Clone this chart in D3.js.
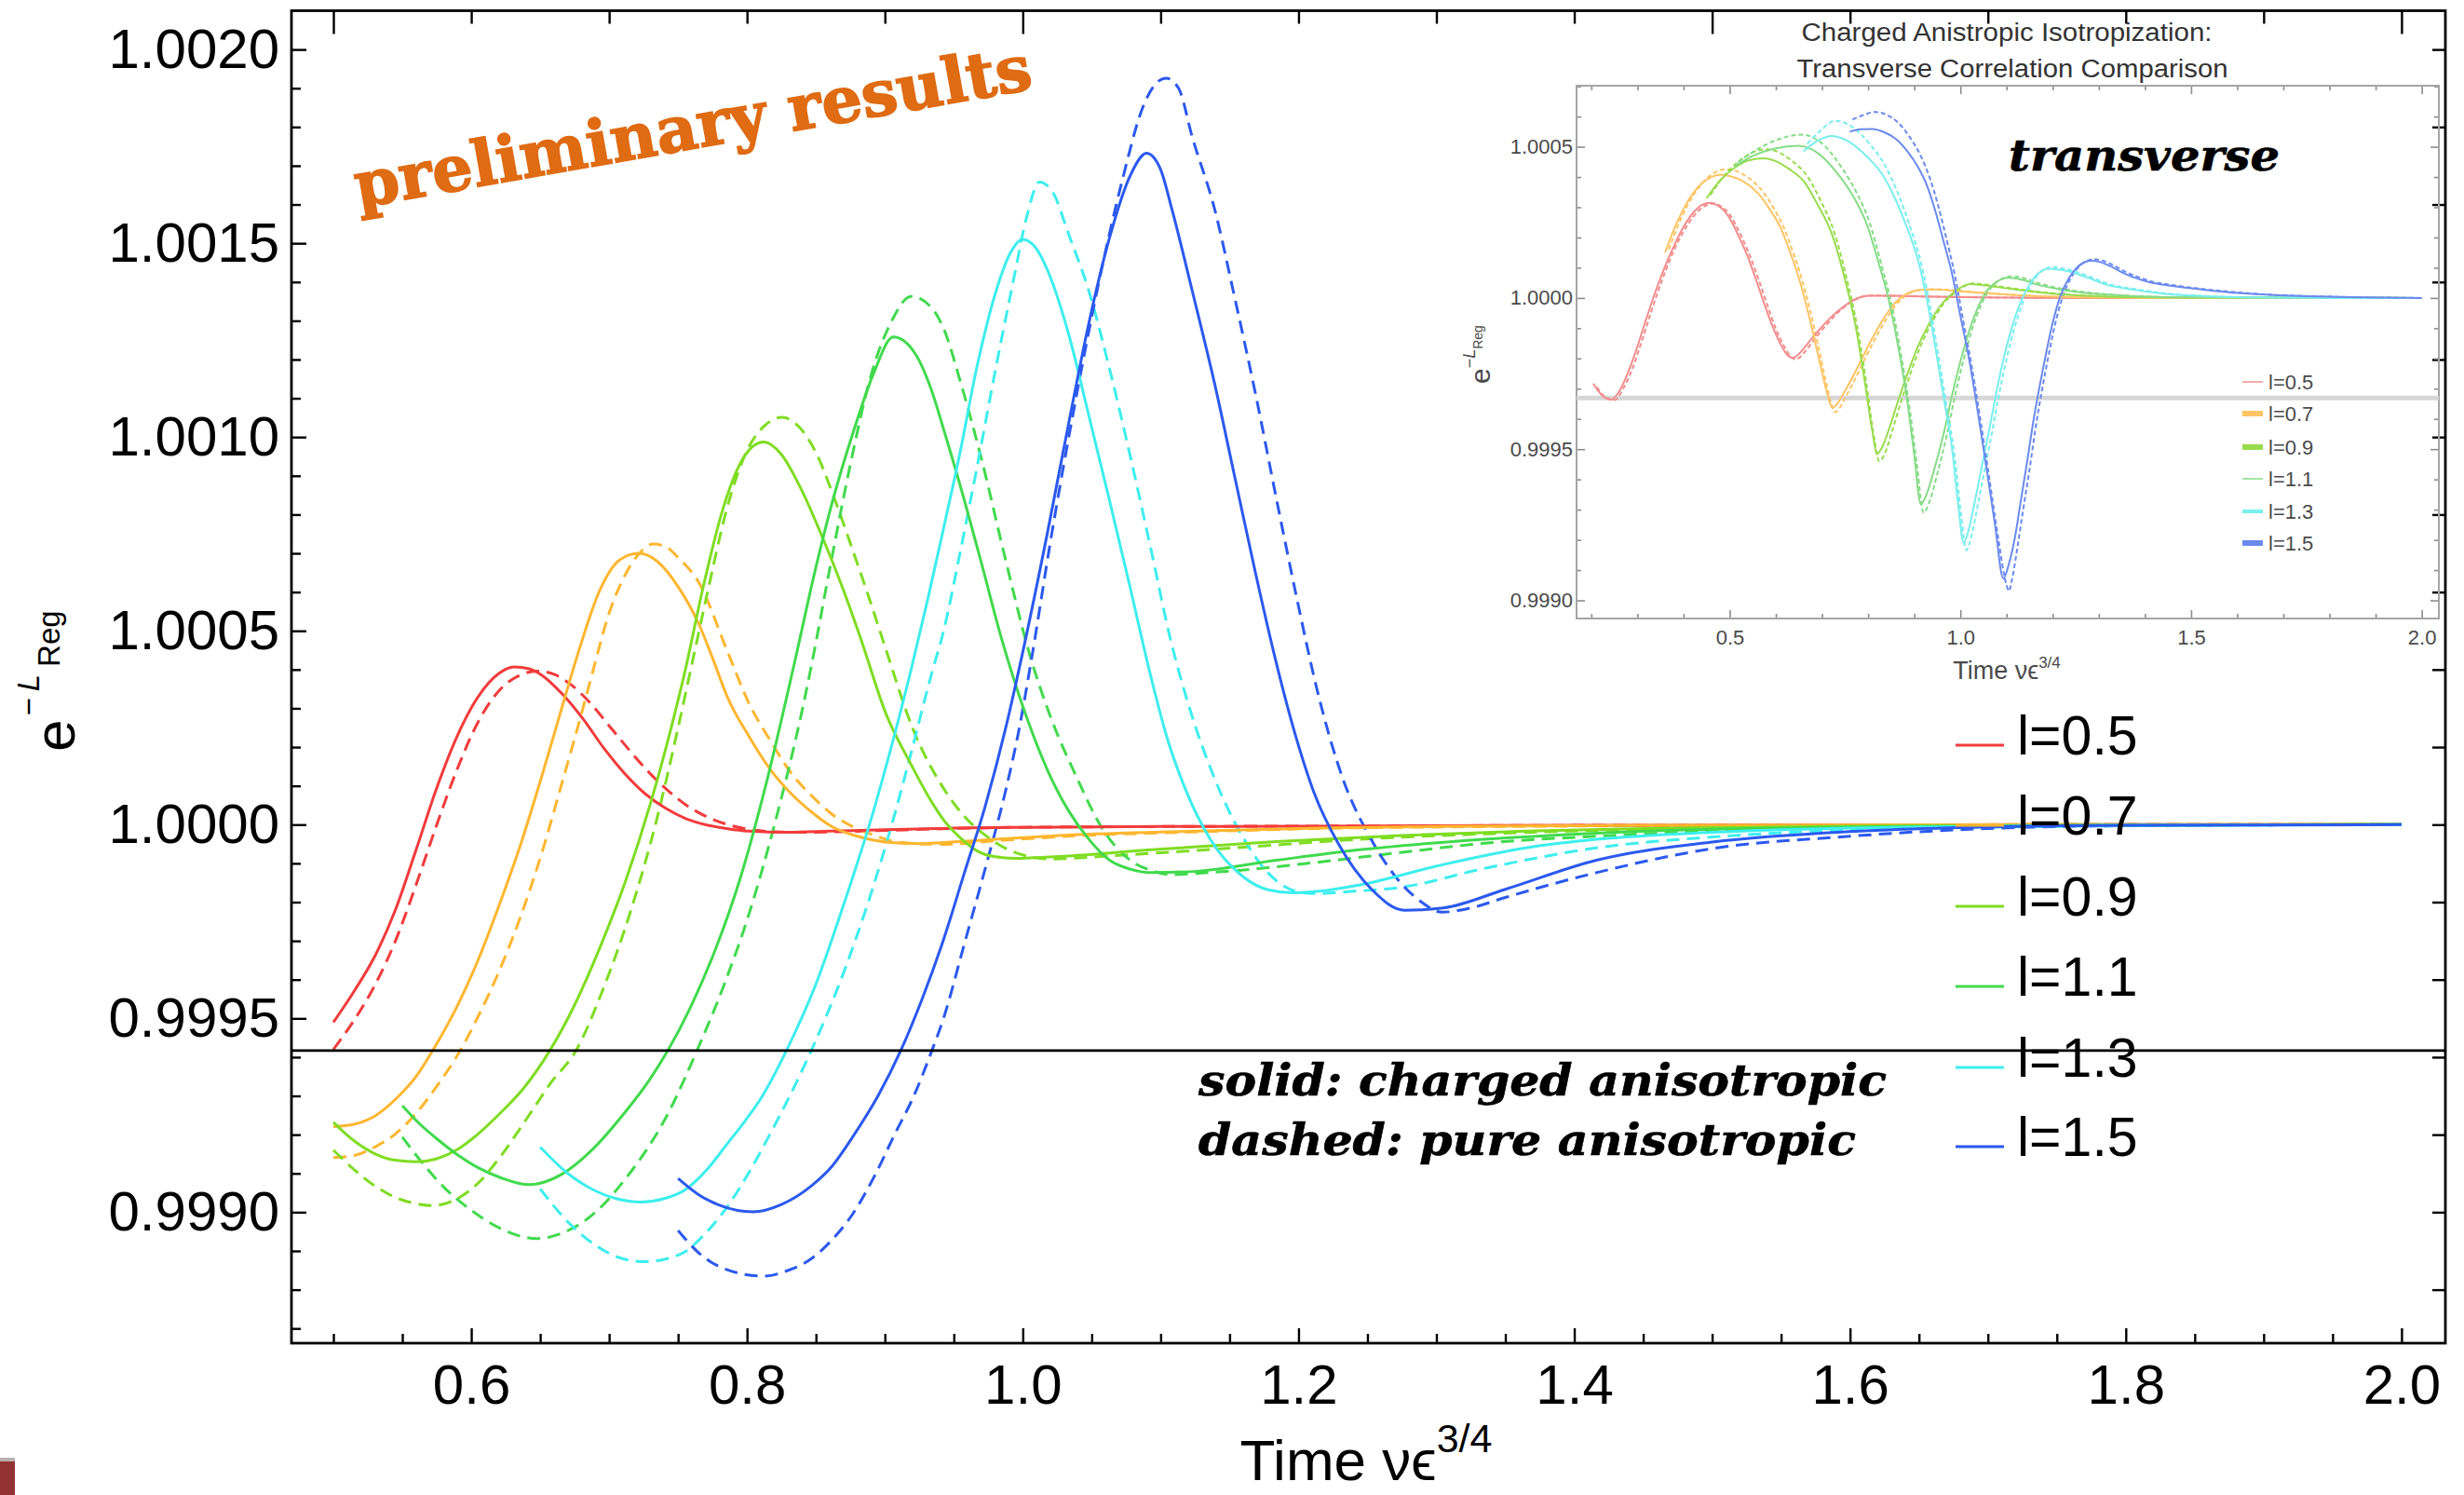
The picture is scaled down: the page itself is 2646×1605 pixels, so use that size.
<!DOCTYPE html>
<html>
<head>
<meta charset="utf-8">
<script src="https://cdn.jsdelivr.net/npm/d3@7"></script>
<style>
  html, body { margin: 0; padding: 0; background: #fff; }
  svg { display: block; }
</style>
</head>
<body>
<svg id="chart" width="2646" height="1605"></svg>
<script>
// ---------------------------------------------------------------------------
// Data: e^{-L_Reg} versus time, for six values of l.
// Each point is [time, deviation from 1 in units of 1e-4].
// "charged" = charged anisotropic (solid), "pure" = pure anisotropic (dashed).
// ---------------------------------------------------------------------------
const lLabels = ["l=0.5", "l=0.7", "l=0.9", "l=1.1", "l=1.3", "l=1.5"];
const lineColors = ["#f23b3b", "#ffb62f", "#7fdd22", "#40da4c", "#3deeee", "#2b59ee"];
const insetColors = ["#f38c8c", "#ffc463", "#98dc4c", "#86dc86", "#78eeee", "#6a8aee"];

const charged05 = [[0.500,-5.10],[0.515,-4.30],[0.530,-3.40],[0.545,-2.20],[0.560,-0.65],[0.575,0.95],[0.590,2.30],[0.605,3.30],[0.620,3.90],[0.631,4.07],[0.642,4.02],[0.651,3.86],[0.666,3.37],[0.681,2.73],[0.696,1.98],[0.711,1.33],[0.726,0.80],[0.741,0.42],[0.756,0.15],[0.771,-0.01],[0.786,-0.11],[0.801,-0.17],[0.830,-0.20],[0.860,-0.17],[0.900,-0.13],[0.950,-0.09],[1.000,-0.07],[1.100,-0.05],[1.200,-0.04],[1.400,-0.02],[1.600,-0.01],[1.800,0],[2.000,0]];
const pure05 = [[0.500,-5.80],[0.515,-5.05],[0.530,-4.15],[0.545,-3.00],[0.560,-1.55],[0.575,0.00],[0.590,1.45],[0.605,2.65],[0.620,3.45],[0.635,3.85],[0.648,3.96],[0.660,3.88],[0.672,3.62],[0.686,3.15],[0.700,2.55],[0.714,1.95],[0.728,1.38],[0.742,0.90],[0.756,0.50],[0.771,0.20],[0.786,0.00],[0.801,-0.12],[0.830,-0.20],[0.860,-0.19],[0.900,-0.15],[0.950,-0.10],[1.000,-0.07],[1.100,-0.05],[1.200,-0.04],[1.400,-0.02],[1.600,-0.01],[1.800,0],[2.000,0]];

const charged07 = [[0.500,-7.79],[0.515,-7.73],[0.530,-7.52],[0.545,-7.09],[0.560,-6.50],[0.572,-5.83],[0.590,-4.67],[0.605,-3.49],[0.620,-2.10],[0.636,-0.49],[0.651,1.23],[0.666,3.05],[0.679,4.60],[0.693,6.03],[0.708,6.84],[0.7215,7.00],[0.735,6.79],[0.750,6.14],[0.765,5.18],[0.775,4.30],[0.786,3.27],[0.801,2.30],[0.8165,1.44],[0.832,0.80],[0.847,0.32],[0.862,-0.06],[0.877,-0.27],[0.892,-0.40],[0.907,-0.47],[0.925,-0.49],[0.943,-0.46],[0.980,-0.38],[1.033,-0.27],[1.123,-0.17],[1.214,-0.09],[1.305,-0.05],[1.450,-0.02],[1.600,-0.01],[1.800,0],[2.000,0]];
const pure07 = [[0.500,-8.59],[0.515,-8.54],[0.530,-8.32],[0.545,-7.98],[0.560,-7.45],[0.575,-6.75],[0.592,-5.83],[0.605,-4.95],[0.620,-3.80],[0.636,-2.35],[0.651,-0.75],[0.666,1.10],[0.681,3.00],[0.690,4.20],[0.699,5.35],[0.711,6.40],[0.722,7.00],[0.732,7.24],[0.742,7.15],[0.750,6.89],[0.765,6.25],[0.786,4.45],[0.801,3.16],[0.8165,2.19],[0.832,1.33],[0.847,0.74],[0.862,0.26],[0.877,-0.06],[0.892,-0.27],[0.907,-0.44],[0.922,-0.49],[0.943,-0.51],[0.980,-0.42],[1.033,-0.30],[1.123,-0.19],[1.214,-0.10],[1.305,-0.06],[1.450,-0.03],[1.600,-0.01],[1.800,0],[2.000,0]];

const charged09 = [[0.500,-7.68],[0.515,-8.16],[0.530,-8.49],[0.545,-8.66],[0.560,-8.70],[0.575,-8.62],[0.590,-8.38],[0.605,-7.98],[0.620,-7.48],[0.638,-6.80],[0.657,-5.83],[0.675,-4.65],[0.693,-3.20],[0.712,-1.45],[0.730,0.55],[0.745,2.50],[0.755,3.95],[0.768,6.10],[0.783,8.20],[0.798,9.50],[0.812,9.87],[0.825,9.55],[0.840,8.60],[0.856,7.30],[0.871,5.95],[0.882,4.85],[0.901,2.84],[0.919,1.55],[0.934,0.58],[0.943,0.10],[0.955,-0.35],[0.967,-0.68],[0.980,-0.83],[0.994,-0.87],[1.010,-0.85],[1.033,-0.81],[1.093,-0.65],[1.184,-0.44],[1.274,-0.28],[1.365,-0.17],[1.450,-0.10],[1.600,-0.04],[1.800,-0.01],[2.000,0]];
const pure09 = [[0.500,-8.40],[0.515,-8.90],[0.530,-9.32],[0.545,-9.62],[0.560,-9.78],[0.572,-9.83],[0.590,-9.65],[0.605,-9.25],[0.620,-8.62],[0.640,-7.60],[0.658,-6.65],[0.676,-5.83],[0.695,-4.30],[0.715,-2.30],[0.735,0.20],[0.750,2.50],[0.761,4.30],[0.772,6.10],[0.785,8.10],[0.800,9.65],[0.813,10.30],[0.8255,10.51],[0.838,10.25],[0.850,9.60],[0.862,8.55],[0.875,7.25],[0.889,5.80],[0.900,4.60],[0.920,2.50],[0.943,0.91],[0.958,0.20],[0.973,-0.28],[0.988,-0.62],[1.003,-0.81],[1.021,-0.89],[1.040,-0.86],[1.063,-0.81],[1.154,-0.60],[1.244,-0.38],[1.335,-0.24],[1.450,-0.12],[1.600,-0.05],[1.800,-0.01],[2.000,0]];

const charged11 = [[0.550,-7.25],[0.5625,-7.72],[0.5752,-8.11],[0.590,-8.52],[0.6053,-8.86],[0.622,-9.12],[0.6415,-9.29],[0.6657,-9.02],[0.6868,-8.42],[0.7109,-7.45],[0.729,-6.60],[0.7426,-5.83],[0.7592,-4.70],[0.7773,-3.20],[0.7954,-1.35],[0.8135,1.00],[0.8346,4.20],[0.8497,6.60],[0.8617,8.30],[0.8768,10.10],[0.8919,11.65],[0.9061,12.58],[0.922,12.15],[0.934,11.19],[0.9426,10.20],[0.955,8.70],[0.970,6.75],[0.985,4.75],[1.003,2.75],[1.018,1.40],[1.033,0.37],[1.048,-0.38],[1.063,-0.92],[1.078,-1.15],[1.093,-1.24],[1.124,-1.21],[1.184,-0.92],[1.244,-0.65],[1.335,-0.38],[1.416,-0.22],[1.500,-0.12],[1.600,-0.06],[1.800,-0.01],[2.000,0]];
const pure11 = [[0.550,-8.06],[0.565,-8.75],[0.580,-9.35],[0.600,-9.95],[0.620,-10.40],[0.6476,-10.68],[0.665,-10.55],[0.6808,-10.26],[0.696,-9.80],[0.7109,-9.18],[0.726,-8.45],[0.741,-7.57],[0.7637,-5.83],[0.7833,-4.14],[0.8014,-2.31],[0.8195,-0.06],[0.8406,3.05],[0.8467,4.10],[0.860,6.60],[0.875,9.30],[0.890,11.60],[0.905,13.00],[0.919,13.63],[0.934,13.33],[0.9426,12.80],[0.955,11.40],[0.9698,9.47],[0.9878,6.79],[1.0045,4.45],[1.021,2.70],[1.039,1.23],[1.057,-0.06],[1.078,-0.92],[1.093,-1.18],[1.108,-1.29],[1.130,-1.25],[1.154,-1.19],[1.214,-0.97],[1.274,-0.72],[1.335,-0.48],[1.416,-0.30],[1.500,-0.17],[1.600,-0.08],[1.800,-0.02],[2.000,0]];

const charged13 = [[0.650,-8.32],[0.670,-9.00],[0.690,-9.45],[0.705,-9.65],[0.723,-9.74],[0.740,-9.65],[0.756,-9.40],[0.771,-8.90],[0.786,-8.22],[0.7985,-7.65],[0.8105,-7.04],[0.8286,-5.83],[0.8497,-4.14],[0.8708,-1.99],[0.8919,0.37],[0.905,2.05],[0.919,4.00],[0.931,5.80],[0.9426,7.65],[0.9545,9.60],[0.9667,11.80],[0.9818,13.90],[0.991,14.75],[0.9999,15.10],[1.009,14.90],[1.018,14.30],[1.033,12.69],[1.048,10.54],[1.063,8.35],[1.078,6.10],[1.092,3.95],[1.105,2.20],[1.118,0.91],[1.136,-0.38],[1.160,-1.35],[1.178,-1.68],[1.196,-1.76],[1.220,-1.70],[1.244,-1.56],[1.305,-1.03],[1.365,-0.60],[1.416,-0.38],[1.500,-0.20],[1.600,-0.09],[1.800,-0.02],[2.000,0]];
const pure13 = [[0.650,-9.40],[0.670,-10.25],[0.690,-10.85],[0.708,-11.18],[0.726,-11.28],[0.742,-11.20],[0.756,-11.00],[0.771,-10.50],[0.7863,-9.83],[0.801,-9.00],[0.8165,-8.00],[0.8466,-5.83],[0.8678,-4.03],[0.8919,-1.56],[0.905,0.00],[0.916,1.44],[0.934,3.91],[0.9426,5.00],[0.955,7.10],[0.9667,9.20],[0.980,11.70],[0.993,14.00],[1.003,15.70],[1.012,16.58],[1.022,16.30],[1.033,15.26],[1.048,13.76],[1.063,11.75],[1.078,9.50],[1.093,7.10],[1.107,4.80],[1.121,3.00],[1.139,1.20],[1.160,-0.35],[1.184,-1.45],[1.198,-1.72],[1.211,-1.78],[1.240,-1.72],[1.274,-1.62],[1.335,-1.13],[1.416,-0.60],[1.500,-0.32],[1.600,-0.14],[1.800,-0.03],[2.000,0]];

const charged15 = [[0.750,-9.13],[0.765,-9.55],[0.780,-9.82],[0.8044,-9.99],[0.825,-9.80],[0.8467,-9.32],[0.862,-8.80],[0.8768,-8.05],[0.895,-7.00],[0.9115,-5.83],[0.927,-4.50],[0.9426,-2.96],[0.9577,-1.24],[0.9728,0.48],[0.9878,2.52],[1.000,4.45],[1.018,7.55],[1.033,10.30],[1.048,12.95],[1.063,15.15],[1.078,16.75],[1.0898,17.32],[1.100,16.90],[1.108,15.90],[1.123,13.76],[1.139,11.40],[1.154,8.93],[1.169,6.46],[1.183,4.30],[1.197,2.40],[1.211,0.85],[1.229,-0.50],[1.253,-1.67],[1.277,-2.21],[1.305,-2.15],[1.350,-1.67],[1.416,-0.92],[1.500,-0.45],[1.600,-0.18],[1.700,-0.06],[1.800,-0.02],[2.000,0]];
const pure15 = [[0.750,-10.47],[0.765,-11.05],[0.785,-11.48],[0.812,-11.65],[0.830,-11.50],[0.8467,-11.20],[0.862,-10.70],[0.8768,-10.04],[0.892,-9.10],[0.907,-8.00],[0.921,-7.00],[0.9341,-5.83],[0.9426,-4.99],[0.9577,-3.07],[0.9728,-1.13],[0.9878,0.91],[0.997,2.40],[1.006,4.20],[1.021,7.50],[1.039,11.08],[1.057,14.30],[1.072,16.60],[1.087,18.50],[1.096,19.10],[1.104,19.26],[1.113,19.00],[1.123,17.73],[1.139,15.90],[1.154,13.55],[1.169,11.08],[1.184,8.40],[1.199,5.80],[1.214,3.40],[1.232,1.20],[1.253,-0.40],[1.274,-1.50],[1.290,-2.02],[1.304,-2.26],[1.325,-2.15],[1.350,-1.88],[1.416,-1.24],[1.500,-0.62],[1.600,-0.30],[1.700,-0.10],[1.800,-0.03],[2.000,0]];

// Inset: transverse correlation, same layout [time, deviation x 1e-4]
const insetCharged05 = [[0.204,-2.83],[0.222,-3.20],[0.243,-3.36],[0.262,-3.05],[0.280,-2.45],[0.300,-1.60],[0.320,-0.65],[0.340,0.25],[0.360,1.05],[0.380,1.75],[0.400,2.35],[0.420,2.80],[0.440,3.08],[0.458,3.15],[0.475,3.05],[0.490,2.85],[0.505,2.50],[0.520,2.02],[0.537,1.45],[0.556,0.65],[0.574,-0.15],[0.593,-0.95],[0.611,-1.55],[0.624,-1.87],[0.636,-1.98],[0.648,-1.88],[0.660,-1.68],[0.680,-1.30],[0.700,-0.95],[0.722,-0.60],[0.750,-0.25],[0.775,-0.02],[0.800,0.07],[0.850,0.07],[0.950,0.04],[1.100,0.01],[1.300,0],[2.000,0]];
const insetPure05 = [[0.212,-2.95],[0.230,-3.28],[0.250,-3.38],[0.270,-2.98],[0.290,-2.30],[0.310,-1.40],[0.330,-0.45],[0.350,0.45],[0.370,1.25],[0.390,1.92],[0.410,2.45],[0.430,2.85],[0.450,3.07],[0.466,3.12],[0.482,3.02],[0.498,2.80],[0.513,2.42],[0.528,1.95],[0.545,1.35],[0.564,0.55],[0.582,-0.25],[0.600,-1.02],[0.618,-1.60],[0.631,-1.92],[0.643,-2.03],[0.655,-1.92],[0.667,-1.70],[0.688,-1.28],[0.708,-0.92],[0.730,-0.55],[0.757,-0.20],[0.782,0.01],[0.808,0.08],[0.860,0.07],[0.960,0.04],[1.100,0.01],[1.300,0],[2.000,0]];
const insetCharged07 = [[0.360,1.50],[0.380,2.30],[0.400,2.95],[0.420,3.45],[0.440,3.80],[0.460,4.00],[0.480,4.08],[0.500,4.03],[0.530,3.85],[0.562,3.45],[0.586,2.95],[0.611,2.30],[0.630,1.55],[0.648,0.75],[0.667,-0.30],[0.685,-1.45],[0.700,-2.45],[0.712,-3.20],[0.7225,-3.63],[0.733,-3.50],[0.745,-3.20],[0.760,-2.80],[0.785,-2.05],[0.809,-1.33],[0.835,-0.65],[0.859,-0.15],[0.885,0.15],[0.908,0.26],[0.935,0.28],[0.960,0.27],[1.000,0.22],[1.069,0.14],[1.150,0.07],[1.254,0.02],[1.400,0],[2.000,0]];
const insetPure07 = [[0.368,1.60],[0.388,2.40],[0.408,3.05],[0.428,3.55],[0.448,3.92],[0.468,4.15],[0.490,4.25],[0.510,4.22],[0.538,4.00],[0.570,3.55],[0.594,3.00],[0.618,2.30],[0.637,1.52],[0.655,0.70],[0.674,-0.40],[0.692,-1.60],[0.706,-2.60],[0.718,-3.38],[0.728,-3.78],[0.739,-3.62],[0.751,-3.28],[0.766,-2.85],[0.791,-2.08],[0.815,-1.35],[0.841,-0.66],[0.865,-0.15],[0.891,0.16],[0.914,0.27],[0.941,0.29],[0.966,0.28],[1.006,0.22],[1.075,0.14],[1.156,0.07],[1.260,0.02],[1.400,0],[2.000,0]];
const insetCharged09 = [[0.450,3.30],[0.480,3.90],[0.510,4.30],[0.540,4.55],[0.574,4.62],[0.600,4.52],[0.630,4.25],[0.661,3.85],[0.690,3.10],[0.722,2.09],[0.750,0.60],[0.772,-0.86],[0.790,-2.50],[0.809,-4.39],[0.819,-5.16],[0.830,-4.95],[0.846,-4.30],[0.865,-3.40],[0.883,-2.60],[0.908,-1.60],[0.932,-0.86],[0.957,-0.25],[0.982,0.14],[1.007,0.40],[1.019,0.46],[1.050,0.42],[1.100,0.32],[1.150,0.22],[1.200,0.14],[1.260,0.08],[1.350,0.03],[1.500,0.01],[2.000,0]];
const insetPure09 = [[0.458,3.40],[0.488,4.05],[0.518,4.50],[0.548,4.80],[0.580,4.92],[0.606,4.82],[0.636,4.52],[0.667,4.05],[0.696,3.25],[0.727,2.15],[0.755,0.55],[0.777,-1.00],[0.795,-2.70],[0.813,-4.62],[0.824,-5.40],[0.836,-5.15],[0.852,-4.40],[0.871,-3.45],[0.889,-2.62],[0.914,-1.58],[0.938,-0.82],[0.963,-0.20],[0.988,0.17],[1.013,0.42],[1.026,0.48],[1.056,0.44],[1.106,0.33],[1.156,0.23],[1.206,0.15],[1.266,0.08],[1.356,0.03],[1.500,0.01],[2.000,0]];
const insetCharged11 = [[0.510,4.35],[0.550,4.70],[0.600,4.95],[0.648,5.03],[0.690,4.80],[0.735,4.09],[0.770,3.30],[0.797,2.44],[0.822,1.20],[0.846,-0.15],[0.865,-1.60],[0.883,-3.21],[0.900,-5.20],[0.914,-6.81],[0.929,-6.40],[0.945,-5.57],[0.965,-4.40],[0.982,-3.21],[1.000,-2.10],[1.019,-1.09],[1.037,-0.35],[1.056,0.20],[1.080,0.55],[1.105,0.67],[1.135,0.60],[1.167,0.44],[1.210,0.30],[1.254,0.20],[1.320,0.11],[1.378,0.06],[1.500,0.02],[2.000,0]];
const insetPure11 = [[0.518,4.50],[0.558,4.90],[0.606,5.25],[0.655,5.40],[0.697,5.15],[0.741,4.35],[0.776,3.45],[0.803,2.50],[0.828,1.15],[0.852,-0.30],[0.871,-1.85],[0.889,-3.55],[0.906,-5.55],[0.920,-7.10],[0.935,-6.65],[0.951,-5.75],[0.971,-4.50],[0.988,-3.25],[1.006,-2.10],[1.025,-1.05],[1.043,-0.30],[1.062,0.25],[1.086,0.60],[1.111,0.72],[1.141,0.64],[1.173,0.47],[1.216,0.32],[1.260,0.21],[1.326,0.11],[1.384,0.06],[1.500,0.02],[2.000,0]];
const insetCharged13 = [[0.660,4.85],[0.690,5.20],[0.7225,5.36],[0.760,5.15],[0.797,4.68],[0.830,4.10],[0.859,3.27],[0.885,2.30],[0.908,1.26],[0.928,-0.10],[0.945,-1.57],[0.965,-3.40],[0.982,-5.00],[0.995,-6.80],[1.007,-8.10],[1.019,-7.60],[1.031,-6.75],[1.046,-5.60],[1.062,-4.39],[1.077,-3.20],[1.093,-2.04],[1.111,-1.00],[1.130,-0.15],[1.150,0.45],[1.167,0.79],[1.192,0.97],[1.222,0.92],[1.254,0.79],[1.285,0.62],[1.316,0.44],[1.378,0.27],[1.439,0.14],[1.530,0.06],[1.625,0.02],[1.800,0],[2.000,0]];
const insetPure13 = [[0.668,5.10],[0.698,5.55],[0.729,5.86],[0.766,5.65],[0.803,5.10],[0.836,4.40],[0.865,3.45],[0.891,2.35],[0.914,1.20],[0.934,-0.25],[0.951,-1.80],[0.971,-3.65],[0.988,-5.30],[1.001,-7.10],[1.013,-8.34],[1.025,-7.80],[1.037,-6.90],[1.052,-5.72],[1.068,-4.48],[1.083,-3.25],[1.099,-2.08],[1.117,-1.00],[1.136,-0.12],[1.156,0.50],[1.173,0.85],[1.198,1.02],[1.228,0.96],[1.260,0.82],[1.291,0.64],[1.322,0.46],[1.384,0.28],[1.445,0.15],[1.536,0.06],[1.631,0.02],[1.800,0],[2.000,0]];
const insetCharged15 = [[0.760,5.50],[0.785,5.58],[0.809,5.59],[0.835,5.48],[0.859,5.27],[0.885,4.85],[0.908,4.33],[0.928,3.70],[0.945,2.91],[0.963,1.90],[0.982,0.79],[1.000,-0.60],[1.019,-2.04],[1.037,-3.70],[1.056,-5.57],[1.075,-7.50],[1.093,-9.28],[1.105,-8.80],[1.118,-7.93],[1.130,-6.80],[1.143,-5.57],[1.160,-3.90],[1.180,-2.27],[1.198,-0.95],[1.217,0.08],[1.235,0.65],[1.254,1.03],[1.270,1.19],[1.285,1.24],[1.305,1.18],[1.328,1.03],[1.350,0.85],[1.378,0.67],[1.410,0.52],[1.439,0.44],[1.501,0.32],[1.560,0.22],[1.625,0.14],[1.690,0.09],[1.748,0.06],[1.870,0.02],[2.000,0]];
const insetPure15 = [[0.766,5.90],[0.790,6.05],[0.815,6.15],[0.841,6.05],[0.865,5.80],[0.891,5.30],[0.914,4.70],[0.934,3.95],[0.951,3.10],[0.969,2.00],[0.988,0.75],[1.006,-0.75],[1.025,-2.30],[1.043,-4.00],[1.062,-5.90],[1.081,-7.85],[1.100,-9.50],[1.105,-9.69],[1.112,-9.30],[1.124,-8.20],[1.136,-7.00],[1.149,-5.75],[1.166,-4.00],[1.186,-2.30],[1.204,-0.95],[1.223,0.10],[1.241,0.70],[1.260,1.08],[1.276,1.24],[1.291,1.28],[1.311,1.22],[1.334,1.06],[1.356,0.88],[1.384,0.70],[1.416,0.54],[1.445,0.46],[1.507,0.33],[1.566,0.23],[1.631,0.15],[1.696,0.09],[1.754,0.06],[1.876,0.02],[2.000,0]];

// Tick positions
const mainXMajor = [0.6, 0.8, 1.0, 1.2, 1.4, 1.6, 1.8, 2.0];
const mainYMajor = [0.9990, 0.9995, 1.0000, 1.0005, 1.0010, 1.0015, 1.0020];
const topMajor = [0.5, 1.0, 1.5, 2.0];
const insetXMajor = [0.5, 1.0, 1.5, 2.0];
const insetYMajor = [0.9990, 0.9995, 1.0000, 1.0005];

// Horizontal reference levels
const mainMarkLevel = 0.999417;
const insetMarkLevel = 0.999669;

const mainCharged = [charged05, charged07, charged09, charged11, charged13, charged15];
const mainPure = [pure05, pure07, pure09, pure11, pure13, pure15];
const insetCharged = [insetCharged05, insetCharged07, insetCharged09, insetCharged11, insetCharged13, insetCharged15];
const insetPure = [insetPure05, insetPure07, insetPure09, insetPure11, insetPure13, insetPure15];

// ---------------------------------------------------------------------------
const sans = "'Liberation Sans', Arial, Helvetica, sans-serif";
const serif = "'DejaVu Serif', 'Liberation Serif', serif";
const svg = d3.select("#chart");
svg.append("rect").attr("width", 2646).attr("height", 1605).attr("fill", "#fff");

const dev = v => 1 + v * 1e-4;
const near = (a, list) => list.some(b => Math.abs(a - b) < 1e-9);

// ---- main panel -----------------------------------------------------------
const F = { left: 313, right: 2626, top: 11.5, bottom: 1442 };
const x = d3.scaleLinear().domain([0.4696, 2.0318]).range([F.left, F.right]);
const y = d3.scaleLinear().domain([0.998662, 1.0021]).range([F.bottom, F.top]);

function tidy(g, color, width) {
  g.select(".domain").remove();
  g.selectAll(".tick line").attr("stroke", color).attr("stroke-width", width);
}

// bottom axis (labels + minor ticks)
const xMinor = d3.range(0.5, 2.0001, 0.05).map(v => +v.toFixed(2)).filter(v => !near(v, mainXMajor));
svg.append("g").attr("transform", `translate(0,${F.bottom})`)
  .call(d3.axisBottom(x).tickValues(mainXMajor).tickSize(-16).tickPadding(22).tickFormat(d3.format(".1f")))
  .call(g => tidy(g, "#000", 2.4))
  .attr("font-family", sans).attr("font-size", 60)
  .call(g => g.selectAll(".tick text").attr("fill", "#000"));
svg.append("g").attr("transform", `translate(0,${F.bottom})`)
  .call(d3.axisBottom(x).tickValues(xMinor).tickSize(-10).tickFormat(""))
  .call(g => tidy(g, "#000", 2.4));

// left axis
const yMinor = d3.range(0.9987, 1.00205, 0.0001).map(v => +v.toFixed(4)).filter(v => !near(v, mainYMajor));
svg.append("g").attr("transform", `translate(${F.left},0)`)
  .call(d3.axisLeft(y).tickValues(mainYMajor).tickSize(-16).tickPadding(13).tickFormat(d3.format(".4f")))
  .call(g => tidy(g, "#000", 2.4))
  .attr("font-family", sans).attr("font-size", 60)
  .call(g => g.selectAll(".tick text").attr("fill", "#000"));
svg.append("g").attr("transform", `translate(${F.left},0)`)
  .call(d3.axisLeft(y).tickValues(yMinor).tickSize(-10).tickFormat(""))
  .call(g => tidy(g, "#000", 2.4));

// top axis (no labels)
const topMinor = d3.range(0.5, 2.0001, 0.1).map(v => +v.toFixed(1)).filter(v => !near(v, topMajor));
svg.append("g").attr("transform", `translate(0,${F.top})`)
  .call(d3.axisTop(x).tickValues(topMajor).tickSize(-25).tickFormat(""))
  .call(g => tidy(g, "#000", 2.4));
svg.append("g").attr("transform", `translate(0,${F.top})`)
  .call(d3.axisTop(x).tickValues(topMinor).tickSize(-14).tickFormat(""))
  .call(g => tidy(g, "#000", 2.4));

// right axis (no labels)
const rightTicks = d3.range(0.9988, 1.00201, 0.0002).map(v => +v.toFixed(4));
svg.append("g").attr("transform", `translate(${F.right},0)`)
  .call(d3.axisRight(y).tickValues(rightTicks).tickSize(-14).tickFormat(""))
  .call(g => tidy(g, "#000", 2.4));

// frame
svg.append("rect").attr("x", F.left).attr("y", F.top)
  .attr("width", F.right - F.left).attr("height", F.bottom - F.top)
  .attr("fill", "none").attr("stroke", "#000").attr("stroke-width", 2.8);

// curves
svg.append("clipPath").attr("id", "mainClip").append("rect")
  .attr("x", F.left).attr("y", F.top).attr("width", F.right - F.left).attr("height", F.bottom - F.top);
const mainLine = d3.line().x(d => x(d[0])).y(d => y(dev(d[1]))).curve(d3.curveMonotoneX);
const curves = svg.append("g").attr("clip-path", "url(#mainClip)").attr("fill", "none");
mainPure.forEach((s, i) => {
  curves.append("path").attr("d", mainLine(s)).attr("stroke", lineColors[i])
    .attr("stroke-width", 3).attr("stroke-dasharray", "14,8");
});
mainCharged.forEach((s, i) => {
  curves.append("path").attr("d", mainLine(s)).attr("stroke", lineColors[i]).attr("stroke-width", 3);
});

// legend
const legendY = [800, 886, 973, 1059, 1146, 1231];
lLabels.forEach((lab, i) => {
  svg.append("line").attr("x1", 2100).attr("x2", 2152).attr("y1", legendY[i]).attr("y2", legendY[i])
    .attr("stroke", lineColors[i]).attr("stroke-width", 3);
  svg.append("text").attr("x", 2166).attr("y", legendY[i] + 10)
    .attr("font-family", sans).attr("font-size", 59).attr("fill", "#000").text(lab);
});

// horizontal reference line across the panel
svg.append("line").attr("x1", F.left).attr("x2", F.right)
  .attr("y1", y(mainMarkLevel)).attr("y2", y(mainMarkLevel))
  .attr("stroke", "#000").attr("stroke-width", 2.8);

// axis titles
const yt = svg.append("text").attr("transform", "translate(80,807) rotate(-90)")
  .attr("font-family", sans).attr("fill", "#000");
yt.append("tspan").attr("font-size", 62).text("e");
yt.append("tspan").attr("font-size", 33).attr("dx", 4).attr("dy", -38).text("\u2212");
yt.append("tspan").attr("font-size", 33).attr("dx", 7).attr("font-style", "italic").text("L");
yt.append("tspan").attr("font-size", 33).attr("dx", 8).attr("dy", 22).text("Reg");

const xt = svg.append("text").attr("x", 1467).attr("y", 1589).attr("text-anchor", "middle")
  .attr("font-family", sans).attr("fill", "#000").attr("font-size", 62);
xt.append("tspan").text("Time \u03BD\u03F5");
xt.append("tspan").attr("font-size", 43).attr("dy", -30).text("3/4");

// annotations
svg.append("text").attr("transform", "translate(385,223) rotate(-10)")
  .attr("font-family", serif).attr("font-weight", "bold").attr("font-size", 68)
  .attr("fill", "#df6b13").attr("stroke", "#df6b13").attr("stroke-width", 1.6)
  .attr("textLength", 737).attr("lengthAdjust", "spacingAndGlyphs")
  .text("preliminary results");
svg.append("text").attr("x", 1287).attr("y", 1176)
  .attr("font-family", serif).attr("font-weight", "bold").attr("font-style", "italic").attr("font-size", 46)
  .attr("fill", "#000").attr("stroke", "#000").attr("stroke-width", 0.6)
  .attr("textLength", 739).attr("lengthAdjust", "spacingAndGlyphs")
  .text("solid: charged anisotropic");
svg.append("text").attr("x", 1287).attr("y", 1240)
  .attr("font-family", serif).attr("font-weight", "bold").attr("font-style", "italic").attr("font-size", 46)
  .attr("fill", "#000").attr("stroke", "#000").attr("stroke-width", 0.6)
  .attr("textLength", 706).attr("lengthAdjust", "spacingAndGlyphs")
  .text("dashed: pure anisotropic");

// ---- inset panel ----------------------------------------------------------
const I = { left: 1693, right: 2619, top: 92, bottom: 664 };
const ix = d3.scaleLinear().domain([0.168, 2.037]).range([I.left, I.right]);
const iy = d3.scaleLinear().domain([0.99894, 1.000702]).range([I.bottom, I.top]);
const gray = "#8c8c8c";

svg.append("text").attr("x", 2155).attr("y", 44).attr("text-anchor", "middle")
  .attr("font-family", sans).attr("font-size", 27).attr("fill", "#333")
  .attr("textLength", 441).attr("lengthAdjust", "spacingAndGlyphs")
  .text("Charged Anistropic Isotropization:");
svg.append("text").attr("x", 2161).attr("y", 83).attr("text-anchor", "middle")
  .attr("font-family", sans).attr("font-size", 27).attr("fill", "#333")
  .attr("textLength", 463).attr("lengthAdjust", "spacingAndGlyphs")
  .text("Transverse Correlation Comparison");

const ixMinor = d3.range(0.2, 2.0001, 0.1).map(v => +v.toFixed(1)).filter(v => !near(v, insetXMajor));
const iyMinor = d3.range(0.9990, 1.00071, 0.0001).map(v => +v.toFixed(4)).filter(v => !near(v, insetYMajor));

svg.append("g").attr("transform", `translate(0,${I.bottom})`)
  .call(d3.axisBottom(ix).tickValues(insetXMajor).tickSize(-9).tickPadding(12).tickFormat(d3.format(".1f")))
  .call(g => tidy(g, gray, 1.6))
  .attr("font-family", sans).attr("font-size", 22)
  .call(g => g.selectAll(".tick text").attr("fill", "#4a4a4a"));
svg.append("g").attr("transform", `translate(0,${I.bottom})`)
  .call(d3.axisBottom(ix).tickValues(ixMinor).tickSize(-5).tickFormat(""))
  .call(g => tidy(g, gray, 1.6));
svg.append("g").attr("transform", `translate(0,${I.top})`)
  .call(d3.axisTop(ix).tickValues(insetXMajor).tickSize(-9).tickFormat(""))
  .call(g => tidy(g, gray, 1.6));
svg.append("g").attr("transform", `translate(0,${I.top})`)
  .call(d3.axisTop(ix).tickValues(ixMinor).tickSize(-5).tickFormat(""))
  .call(g => tidy(g, gray, 1.6));
svg.append("g").attr("transform", `translate(${I.left},0)`)
  .call(d3.axisLeft(iy).tickValues(insetYMajor).tickSize(-9).tickPadding(4).tickFormat(d3.format(".4f")))
  .call(g => tidy(g, gray, 1.6))
  .attr("font-family", sans).attr("font-size", 22)
  .call(g => g.selectAll(".tick text").attr("fill", "#4a4a4a"));
svg.append("g").attr("transform", `translate(${I.left},0)`)
  .call(d3.axisLeft(iy).tickValues(iyMinor).tickSize(-5).tickFormat(""))
  .call(g => tidy(g, gray, 1.6));
svg.append("g").attr("transform", `translate(${I.right},0)`)
  .call(d3.axisRight(iy).tickValues(insetYMajor).tickSize(-9).tickFormat(""))
  .call(g => tidy(g, gray, 1.6));
svg.append("g").attr("transform", `translate(${I.right},0)`)
  .call(d3.axisRight(iy).tickValues(iyMinor).tickSize(-5).tickFormat(""))
  .call(g => tidy(g, gray, 1.6));

svg.append("rect").attr("x", I.left).attr("y", I.top)
  .attr("width", I.right - I.left).attr("height", I.bottom - I.top)
  .attr("fill", "none").attr("stroke", "#a5a5a5").attr("stroke-width", 2);

svg.append("line").attr("x1", I.left).attr("x2", I.right)
  .attr("y1", iy(insetMarkLevel)).attr("y2", iy(insetMarkLevel))
  .attr("stroke", "#d6d6d6").attr("stroke-width", 5);

svg.append("clipPath").attr("id", "insetClip").append("rect")
  .attr("x", I.left).attr("y", I.top).attr("width", I.right - I.left).attr("height", I.bottom - I.top);
const insetLine = d3.line().x(d => ix(d[0])).y(d => iy(dev(d[1]))).curve(d3.curveMonotoneX);
const icurves = svg.append("g").attr("clip-path", "url(#insetClip)").attr("fill", "none");
insetPure.forEach((s, i) => {
  icurves.append("path").attr("d", insetLine(s)).attr("stroke", insetColors[i])
    .attr("stroke-width", 2).attr("stroke-dasharray", "5,3");
});
insetCharged.forEach((s, i) => {
  icurves.append("path").attr("d", insetLine(s)).attr("stroke", insetColors[i]).attr("stroke-width", 2);
});

// inset legend
const iLegendY = [410, 444, 480, 514, 549, 583];
const iLegendW = [1.5, 6, 6, 1.5, 4, 6];
lLabels.forEach((lab, i) => {
  svg.append("line").attr("x1", 2408).attr("x2", 2430).attr("y1", iLegendY[i]).attr("y2", iLegendY[i])
    .attr("stroke", insetColors[i]).attr("stroke-width", iLegendW[i]);
  svg.append("text").attr("x", 2436).attr("y", iLegendY[i] + 8)
    .attr("font-family", sans).attr("font-size", 22).attr("fill", "#4a4a4a").text(lab);
});

svg.append("text").attr("x", 2157).attr("y", 183)
  .attr("font-family", serif).attr("font-weight", "bold").attr("font-style", "italic").attr("font-size", 46)
  .attr("fill", "#000").attr("stroke", "#000").attr("stroke-width", 0.6)
  .attr("textLength", 291).attr("lengthAdjust", "spacingAndGlyphs")
  .text("transverse");

const ixt = svg.append("text").attr("x", 2155).attr("y", 729).attr("text-anchor", "middle")
  .attr("font-family", sans).attr("fill", "#4a4a4a").attr("font-size", 27);
ixt.append("tspan").text("Time \u03BD\u03F5");
ixt.append("tspan").attr("font-size", 17).attr("dy", -12).text("3/4");

const iyt = svg.append("text").attr("transform", "translate(1600,412) rotate(-90)")
  .attr("font-family", sans).attr("fill", "#4a4a4a");
iyt.append("tspan").attr("font-size", 30).text("e");
iyt.append("tspan").attr("font-size", 18).attr("dy", -16).text("\u2212");
iyt.append("tspan").attr("font-size", 18).attr("font-style", "italic").text("L");
iyt.append("tspan").attr("font-size", 14).attr("dy", 8).text("Reg");

// corner swatch
svg.append("rect").attr("x", 0).attr("y", 1565).attr("width", 16).attr("height", 40).attr("fill", "#923232");
svg.append("rect").attr("x", 0).attr("y", 1565).attr("width", 16).attr("height", 4).attr("fill", "#b9b0b0");
</script>
</body>
</html>
